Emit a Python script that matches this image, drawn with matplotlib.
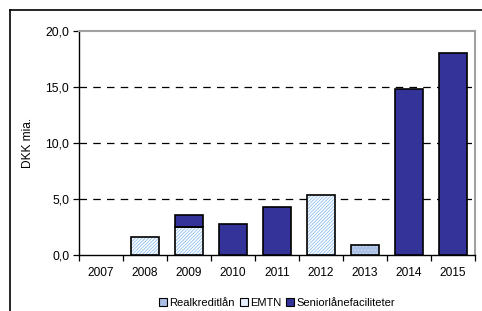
import matplotlib.pyplot as plt
import numpy as np
from matplotlib.lines import Line2D
from matplotlib.patches import Patch

plt.rcParams['font.family'] = ['Liberation Sans', 'DejaVu Sans']
plt.rcParams['hatch.linewidth'] = 0.6

years = ['2007', '2008', '2009', '2010', '2011', '2012', '2013', '2014', '2015']
realkredit = [0, 0, 0, 0, 0, 0, 0.9, 0, 0]
emtn = [0, 1.6, 2.5, 0, 0, 5.4, 0, 0, 0]
senior = [0, 0, 1.1, 2.8, 4.3, 0, 0, 14.8, 18.0]

navy = '#333399'
real_col = '#A9BFE3'
emtn_hatch = '#8EC0F0'

fig = plt.figure(figsize=(4.82, 3.11), dpi=100)
ax = fig.add_axes([79/482, 56/311, 396/482, 224/311])

x = np.arange(len(years))
w = 0.64
real = np.array(realkredit)
em = np.array(emtn)
sen = np.array(senior)

# only draw bars that have a value
m = real > 0
ax.bar(x[m], real[m], w, color=real_col, edgecolor='#C9D8F0', hatch='.....', linewidth=0, zorder=3)
ax.bar(x[m], real[m], w, fill=False, edgecolor='black', linewidth=1.2, zorder=4)

m = em > 0
ax.bar(x[m], em[m], w, bottom=real[m], color='white', edgecolor=emtn_hatch, hatch='//////////', linewidth=0, zorder=3)
ax.bar(x[m], em[m], w, bottom=real[m], fill=False, edgecolor='black', linewidth=1.2, zorder=4)

m = sen > 0
ax.bar(x[m], sen[m], w, bottom=(real + em)[m], color=navy, edgecolor='black', linewidth=1.2, zorder=3)

ax.set_xlim(-0.5, len(years) - 0.5)
ax.set_ylim(0, 20)
ax.set_yticks([0, 5, 10, 15, 20])
ax.set_yticklabels(['0,0', '5,0', '10,0', '15,0', '20,0'], fontsize=8.8)
for v in [5, 10, 15]:
    ax.axhline(v, color='black', linewidth=0.9, dashes=(6, 5), zorder=2)

ax.set_xticks(x)
ax.set_xticklabels(years, fontsize=8.6)
ax.tick_params(axis='x', length=0, pad=9)
ax.set_xticks(np.arange(-0.5, len(years)), minor=True)
ax.tick_params(axis='x', which='minor', length=4, direction='out', width=0.9)
ax.tick_params(axis='y', length=4, direction='out', width=0.9, pad=3)

ax.spines['left'].set_linewidth(1.0)
ax.spines['bottom'].set_linewidth(1.0)
ax.spines['top'].set_color('#A0A0A0')
ax.spines['right'].set_color('#A0A0A0')
ax.spines['top'].set_linewidth(1.5)
ax.spines['right'].set_linewidth(1.5)

ax.set_ylabel('DKK mia.', fontsize=8.6, labelpad=8)

handles = [
    Patch(facecolor=real_col, edgecolor='black', linewidth=0.8),
    Patch(facecolor='#E6F0FC', edgecolor='black', linewidth=0.8),
    Patch(facecolor=navy, edgecolor='black', linewidth=0.8),
]
fig.legend(handles, ['Realkreditlån', 'EMTN', 'Seniorlånefaciliteter'],
           loc='center', bbox_to_anchor=(277/482, 1 - 303/311), ncol=3, frameon=False,
           fontsize=8, handlelength=0.75, handleheight=0.75, handletextpad=0.2,
           columnspacing=0.4)

# outer border lines (top and left)
fig.add_artist(Line2D([10/482, 1], [1 - 10/311, 1 - 10/311], color='black', linewidth=1.2))
fig.add_artist(Line2D([10/482, 10/482], [0, 1 - 10/311], color='black', linewidth=1.2))

fig.savefig('out.png', dpi=100)
